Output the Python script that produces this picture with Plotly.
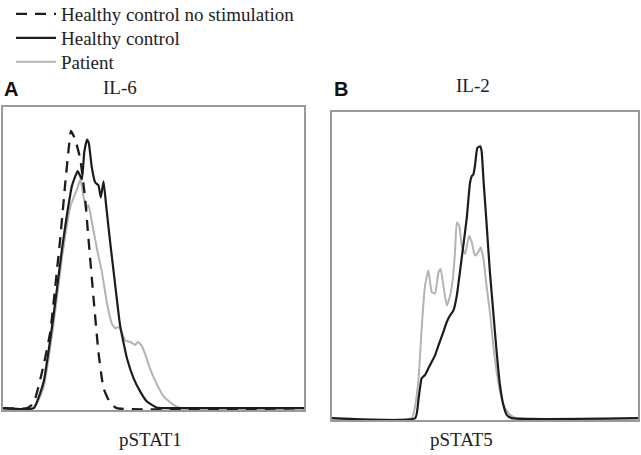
import plotly.graph_objects as go

# ---- Panel A: IL-6 / pSTAT1 (x in % of axis width, y in % of box height)
a_nostim_x = [0, 8.0, 10.2, 13.5, 15.7, 17.4, 19.0, 20.7, 21.8, 22.6, 24.0, 25.7, 27.3, 28.4, 30.1, 31.7, 33.4, 35.6, 37.8, 100]
a_nostim_y = [0, 0, 1.7, 14.3, 25.3, 40.7, 56.2, 74.9, 85.9, 92.1, 89.2, 82.6, 69.4, 56.2, 36.3, 18.7, 6.6, 1.7, 0, 0]

a_hc_x = [0, 10.2, 13.5, 16.8, 19.6, 21.2, 22.9, 24.8, 26.2, 27.0, 27.9, 28.5, 29.5, 30.6, 31.7, 32.5, 33.4, 34.3, 35.6, 37.3, 38.9, 41.2, 43.4, 45.6, 47.8, 51.1, 53.3, 100]
a_hc_y = [0, 0, 8.8, 30.8, 52.9, 63.9, 73.8, 78.7, 76.0, 85.0, 89.2, 88.0, 80.0, 75.0, 74.0, 70.0, 75.3, 67.0, 55.1, 40.7, 27.5, 16.5, 9.9, 5.5, 2.2, 0.2, 0, 0]

a_pt_x = [0, 10.2, 13.5, 16.8, 19.6, 22.4, 24.7, 25.7, 26.8, 27.7, 28.4, 29.5, 31.2, 32.9, 34.5, 36.2, 37.3, 38.4, 39.5, 40.6, 42.3, 43.9, 44.8, 45.9, 47.2, 48.9, 51.1, 53.3, 55.5, 57.7, 59.4, 100]
a_pt_y = [0, 0, 7, 28, 50, 67, 73, 76, 70, 66, 67.5, 62, 53, 45, 35, 28, 26.5, 27, 25, 22.5, 22, 21, 22, 21, 18, 13, 8, 4, 2, 0.5, 0, 0]

# ---- Panel B: IL-2 / pSTAT5
b_hc_x = [0, 27.2, 28.3, 29.3, 30.4, 31.5, 32.6, 33.7, 34.8, 36.4, 37.5, 38.6, 39.7, 40.8, 41.8, 42.9, 44.0, 45.1, 45.7, 46.2, 46.7, 47.5, 48.4, 48.9, 49.5, 50.5, 51.6, 52.7, 53.8, 54.9, 56.0, 57.1, 58.7, 100]
b_hc_y = [0, 0, 6.5, 13.0, 14.1, 16.3, 18.4, 20.6, 23.8, 28.2, 31.4, 33.6, 35.2, 40.1, 47.7, 56.3, 65.0, 76.9, 79.1, 79.6, 82.3, 88.3, 88.8, 87.2, 77.9, 63.8, 47.7, 34.7, 21.7, 10.8, 4.3, 1.1, 0, 0]

b_pt_x = [0, 26.1, 27.2, 28.3, 29.3, 30.4, 31.5, 32.6, 33.7, 34.8, 35.5, 36.4, 37.5, 38.6, 39.5, 40.2, 40.8, 41.6, 42.4, 43.5, 44.8, 45.7, 46.7, 47.8, 48.6, 49.5, 50.5, 51.6, 52.7, 53.8, 54.9, 56.5, 58.2, 60.3, 100]
b_pt_y = [0, 0, 4.3, 13.0, 29.3, 43.3, 48.2, 41.2, 40.7, 47.7, 48.8, 43.3, 36.8, 40.1, 45.5, 54.2, 63.9, 62.8, 56.3, 53.6, 59.6, 57.4, 53.1, 54.2, 55.8, 52.0, 43.3, 34.7, 23.8, 15.2, 8.7, 3.3, 1.1, 0, 0]

names = ["Healthy control no stimulation", "Healthy control", "Patient"]
BLACK = "#1c1c1c"
GRAY = "#b3b3b3"
W, H = 641, 455
FONT = "Liberation Serif"
FS = 19

fig = go.Figure()
# panel A
fig.add_trace(go.Scatter(x=a_pt_x, y=a_pt_y, mode="lines", name=names[2], legend="legend3",
                         line=dict(color=GRAY, width=2, shape="spline", smoothing=0.4), xaxis="x", yaxis="y"))
fig.add_trace(go.Scatter(x=a_hc_x, y=a_hc_y, mode="lines", name=names[1], legend="legend2",
                         line=dict(color=BLACK, width=2.2, shape="spline", smoothing=0.4), xaxis="x", yaxis="y"))
fig.add_trace(go.Scatter(x=a_nostim_x, y=a_nostim_y, mode="lines", name=names[0], legend="legend",
                         line=dict(color=BLACK, width=2.3, dash="11px,8px", shape="spline", smoothing=0.4),
                         xaxis="x", yaxis="y"))
# panel B
fig.add_trace(go.Scatter(x=b_pt_x, y=b_pt_y, mode="lines", name=names[2], showlegend=False,
                         line=dict(color=GRAY, width=2, shape="spline", smoothing=0.4), xaxis="x2", yaxis="y2"))
fig.add_trace(go.Scatter(x=b_hc_x, y=b_hc_y, mode="lines", name=names[1], showlegend=False,
                         line=dict(color=BLACK, width=2.2, shape="spline", smoothing=0.4), xaxis="x2", yaxis="y2"))

def px_x(p):
    return p / W

def px_y(p):
    return 1 - p / H

ax_common = dict(showgrid=False, zeroline=False, showticklabels=False, ticks="",
                 showline=True, mirror=True, linecolor="#9a9a9a", linewidth=1.5, fixedrange=True)

def leg(ypix):
    return dict(x=px_x(11), y=px_y(ypix), xanchor="left", yanchor="middle", bgcolor="rgba(0,0,0,0)",
                font=dict(family=FONT, size=FS, color="#222"), itemwidth=40)

fig.update_layout(
    width=W, height=H,
    margin=dict(l=0, r=0, t=0, b=0, autoexpand=False),
    paper_bgcolor="white", plot_bgcolor="white",
    font=dict(family=FONT, size=FS, color="#222"),
    xaxis=dict(domain=[px_x(3), px_x(304)], range=[0, 100], anchor="y", **ax_common),
    yaxis=dict(domain=[px_y(410), px_y(107)], range=[-0.6, 100], anchor="x", **ax_common),
    xaxis2=dict(domain=[px_x(332), px_x(638)], range=[0, 100], anchor="y2", **ax_common),
    yaxis2=dict(domain=[px_y(420), px_y(112)], range=[-0.6, 100], anchor="x2", **ax_common),
    legend=leg(14),
    legend2=leg(38),
    legend3=leg(62),
    showlegend=True,
)

annos = [
    dict(text="<b>A</b>", x=px_x(11), y=px_y(89), font=dict(family="Liberation Sans", size=20, color="#111")),
    dict(text="IL-6", x=px_x(120), y=px_y(87), font=dict(family=FONT, size=FS, color="#222")),
    dict(text="<b>B</b>", x=px_x(341), y=px_y(89), font=dict(family="Liberation Sans", size=20, color="#111")),
    dict(text="IL-2", x=px_x(473), y=px_y(85), font=dict(family=FONT, size=FS, color="#222")),
    dict(text="pSTAT1", x=px_x(150), y=px_y(439), font=dict(family=FONT, size=FS, color="#222")),
    dict(text="pSTAT5", x=px_x(461), y=px_y(439), font=dict(family=FONT, size=FS, color="#222")),
]
for a in annos:
    fig.add_annotation(xref="paper", yref="paper", xanchor="center", yanchor="middle",
                       showarrow=False, **a)

fig.write_html("out.html", config={"displayModeBar": False},
               post_script="document.body.style.margin='0';")
